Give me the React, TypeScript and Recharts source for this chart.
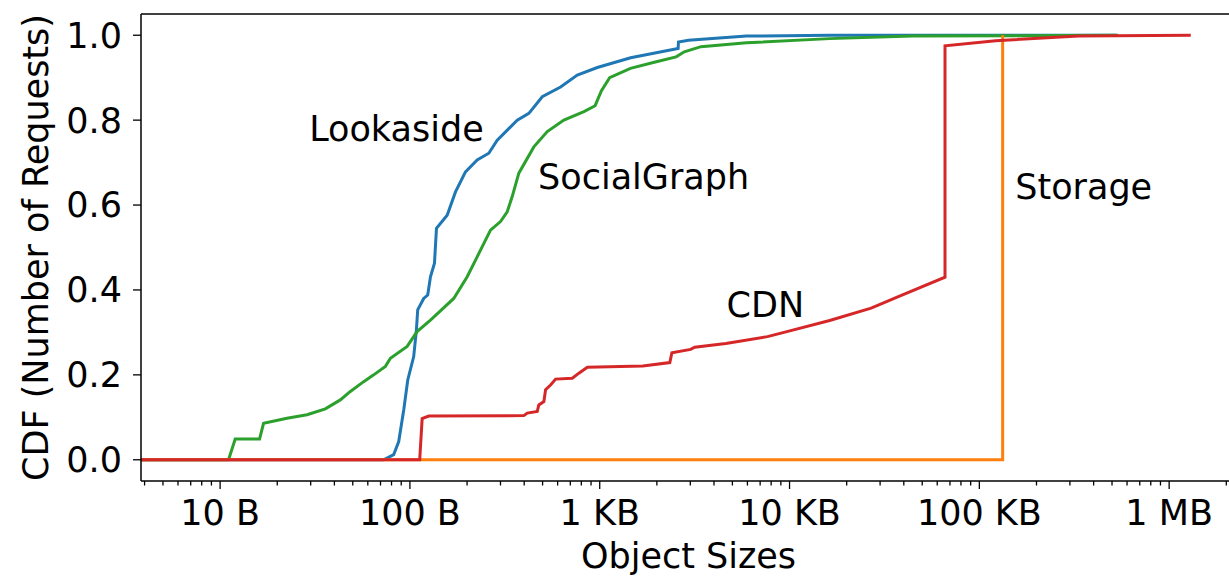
import React from 'react';
import { LineChart, Line, XAxis, YAxis, ReferenceDot, ReferenceLine } from 'recharts';

const FONT = '"DejaVu Sans", Verdana, sans-serif';

// object size (bytes) vs CDF
const LOOKASIDE = [
  [3.8, 0], [72.7, 0], [82.1, 0.012], [87.3, 0.043], [92.8, 0.118], [97.4, 0.188],
  [104.7, 0.243], [108.2, 0.306], [109.9, 0.353], [118.2, 0.38], [124.1, 0.388],
  [128.3, 0.431], [134.7, 0.463], [138, 0.545], [157.1, 0.576], [173.8, 0.631],
  [196.2, 0.678], [226.1, 0.706], [260.4, 0.722], [288.4, 0.753], [331.9, 0.78],
  [367.7, 0.8], [423.2, 0.816], [498.1, 0.855], [622, 0.878], [761.7, 0.906],
  [971.3, 0.924], [1455, 0.947], [2588, 0.969], [2600, 0.984], [2936, 0.988],
  [5938, 0.998], [16270, 1.0], [526000, 1.0],
];

const SOCIALGRAPH = [
  [3.8, 0], [11.08, 0], [12.01, 0.049], [16.14, 0.049], [16.94, 0.086], [22.51, 0.098],
  [28.7, 0.106], [35.84, 0.12], [42.99, 0.141], [48.55, 0.161], [57.06, 0.184],
  [64.44, 0.2], [74.27, 0.22], [78.92, 0.239], [96.7, 0.267], [109.1, 0.302],
  [128.3, 0.329], [170.2, 0.38], [200.3, 0.431], [226.1, 0.478], [265.8, 0.541],
  [300.1, 0.561], [325.5, 0.584], [345.9, 0.62], [374.8, 0.675], [449.6, 0.737],
  [529.2, 0.773], [647.5, 0.8], [825.6, 0.82], [945.6, 0.834], [1019.6, 0.869],
  [1128, 0.9], [1451, 0.922], [1962, 0.937], [2526, 0.949], [2791, 0.961],
  [3415, 0.973], [5938, 0.982], [16270, 0.992], [44530, 0.998], [539000, 1.0],
];

const STORAGE = [[3.8, 0], [132700, 0], [132700, 1.0]];

const CDN = [
  [3.8, 0], [112.6, 0], [116, 0.097], [125.6, 0.103], [398.3, 0.104], [415.1, 0.11],
  [468.7, 0.114], [477.8, 0.129], [507.8, 0.137], [518.4, 0.165], [550.8, 0.176],
  [585.5, 0.19], [716.9, 0.192], [776.6, 0.204], [860.3, 0.218], [1688, 0.221],
  [2340, 0.229], [2400, 0.252], [3012, 0.26], [3166, 0.265], [4619, 0.274],
  [7645, 0.29], [9354, 0.3], [16270, 0.328], [26910, 0.357], [38250, 0.386],
  [65930, 0.43], [65930, 0.975], [121900, 0.987], [333700, 0.998], [1300000, 1.0],
];

const MAJOR_TICKS = [10, 100, 1000, 10000, 100000, 1000000];
const MAJOR_LABELS = ['10 B', '100 B', '1 KB', '10 KB', '100 KB', '1 MB'];
const Y_TICKS = [0, 0.2, 0.4, 0.6, 0.8, 1.0];

// [name, x (bytes), y (cdf)] of the in-plot labels
const ANNOTATIONS: [string, number, number][] = [
  ['Lookaside', 84.9, 0.779],
  ['SocialGraph', 1704, 0.667],
  ['CDN', 7455, 0.366],
  ['Storage', 354500, 0.6435],
];

const X_DOMAIN = [3.83, 2.25e6];
const Y_DOMAIN = [-0.05, 1.05];

const MINOR_TICKS = [1, 10, 100, 1000, 10000, 100000, 1000000]
  .flatMap(d => [2, 3, 4, 5, 6, 7, 8, 9].map(m => m * d))
  .filter(v => v >= X_DOMAIN[0] && v <= X_DOMAIN[1]);

const ALL_TICKS = [...MAJOR_TICKS, ...MINOR_TICKS].sort((a, b) => a - b);

const toPts = (arr: number[][]) => arr.map(([x, y]) => ({ x, y }));

const XTick = (props: any) => {
  const { x, y, payload } = props;
  const idx = MAJOR_TICKS.indexOf(payload.value);
  const major = idx >= 0;
  return (
    <g>
      <line x1={x} x2={x} y1={y} y2={y + (major ? 8 : 4.5)} stroke="#000" strokeWidth={1.3} />
      {major && (
        <text x={x} y={y + 44} textAnchor="middle" fontSize={35} fontFamily={FONT} fill="#000">
          {MAJOR_LABELS[idx]}
        </text>
      )}
    </g>
  );
};

const SERIES = [
  { key: 'lookaside', data: LOOKASIDE, color: '#1f77b4' },
  { key: 'socialgraph', data: SOCIALGRAPH, color: '#2ca02c' },
  { key: 'storage', data: STORAGE, color: '#ff7f0e' },
  { key: 'cdn', data: CDN, color: '#d62728' },
];

export default function App() {
  return (
    <div style={{ position: 'fixed', left: 0, top: 0, width: 1229, height: 576, overflow: 'hidden', background: '#fff' }}>
      <LineChart width={1236} height={576} margin={{ top: 14, right: 0, bottom: 0, left: 0 }}>
        <XAxis
          type="number"
          dataKey="x"
          scale="log"
          domain={X_DOMAIN}
          allowDataOverflow
          ticks={ALL_TICKS}
          interval={0}
          tick={<XTick />}
          tickLine={false}
          tickSize={0}
          tickMargin={0}
          height={95}
          axisLine={{ stroke: '#000', strokeWidth: 1.5 }}
          label={{ value: 'Object Sizes', position: 'insideBottom', offset: 8, fontSize: 35, fill: '#000', fontFamily: FONT }}
        />
        <YAxis
          type="number"
          dataKey="y"
          domain={Y_DOMAIN}
          allowDataOverflow
          ticks={Y_TICKS}
          interval={0}
          width={141}
          tickSize={8}
          tickMargin={11}
          tickFormatter={(v: number) => v.toFixed(1)}
          tick={{ fontSize: 35, fill: '#000', fontFamily: FONT }}
          tickLine={{ stroke: '#000', strokeWidth: 1.3 }}
          axisLine={{ stroke: '#000', strokeWidth: 1.5 }}
          label={{
            value: 'CDF (Number of Requests)', angle: -90, position: 'insideLeft', offset: 36,
            fontSize: 35, fill: '#000', fontFamily: FONT, style: { textAnchor: 'middle' },
          }}
        />
        <ReferenceLine y={1.05} stroke="#000" strokeWidth={1.5} />
        {SERIES.map(s => (
          <Line
            key={s.key}
            data={toPts(s.data)}
            dataKey="y"
            type="linear"
            stroke={s.color}
            strokeWidth={3}
            dot={false}
            activeDot={false}
            isAnimationActive={false}
          />
        ))}
        {ANNOTATIONS.map(([name, x, y]) => (
          <ReferenceDot
            key={name}
            x={x}
            y={y}
            r={0}
            fill="none"
            stroke="none"
            label={{ value: name, position: 'center', fontSize: 35, fill: '#000', fontFamily: FONT }}
          />
        ))}
      </LineChart>
    </div>
  );
}
